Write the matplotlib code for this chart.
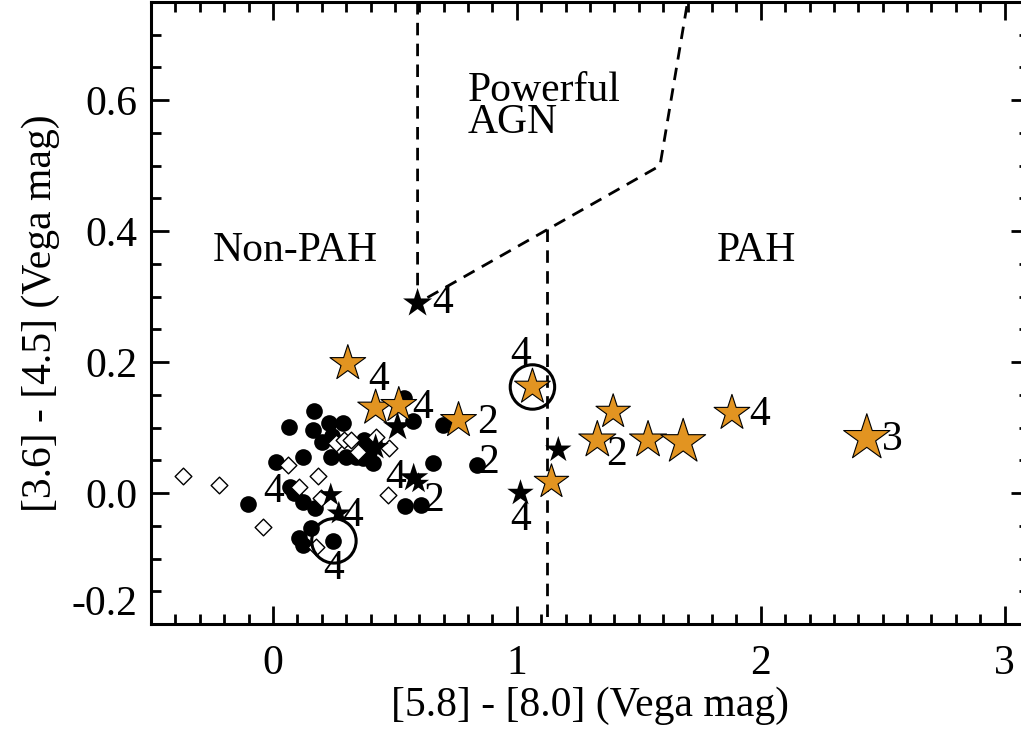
import matplotlib
matplotlib.use("Agg")
import matplotlib.pyplot as plt
from matplotlib.ticker import MultipleLocator, FormatStrFormatter

plt.rcParams['font.family'] = ['Liberation Serif', 'DejaVu Serif']
plt.rcParams['axes.unicode_minus'] = False

# ---- data ----
pah_x = [0.307, 0.421, 0.516, 0.761, 1.064, 1.142, 1.330, 1.395, 1.538, 1.682, 1.882, 2.435]
pah_y = [0.198, 0.130, 0.134, 0.111, 0.162, 0.017, 0.081, 0.124, 0.081, 0.078, 0.122, 0.084]
pah_size = [27, 27, 27, 27, 27, 26, 28, 26, 28, 34, 27, 35]

bstar_x = [0.593, 0.511, 0.421, 0.577, 0.597, 1.015, 1.170, 0.237, 0.270]
bstar_y = [0.290, 0.101, 0.070, 0.023, 0.015, 0.000, 0.066, -0.003, -0.031]
bstar_size = [22, 22, 20, 22, 16, 20, 20, 18, 18]

dot_x = [0.168, 0.065, 0.164, 0.229, 0.286, 0.200, 0.241, 0.012, 0.123, 0.237, 0.299,
         -0.102, 0.070, 0.086, 0.123, 0.172, 0.155, 0.106, 0.123, 0.245, 0.372, 0.393,
         0.368, 0.409, 0.413, 0.536, 0.573, 0.655, 0.696, 0.835, 0.540, 0.606, 0.340]
dot_y = [0.125, 0.101, 0.096, 0.107, 0.107, 0.078, 0.087, 0.047, 0.055, 0.055, 0.055,
         -0.017, 0.009, 0.000, -0.014, -0.023, -0.053, -0.069, -0.079, -0.073, 0.081, 0.063,
         0.053, 0.046, 0.076, 0.145, 0.110, 0.046, 0.104, 0.043, -0.020, -0.018, 0.055]

dia_x = [-0.368, -0.221, -0.041, 0.061, 0.184, 0.106, 0.196, 0.176, 0.258, 0.291, 0.319,
         0.348, 0.421, 0.475, 0.471]
dia_y = [0.026, 0.012, -0.052, 0.043, 0.026, 0.009, -0.008, -0.082, 0.076, 0.081, 0.081,
         0.063, 0.085, 0.069, -0.003]

circ_x = [1.064, 0.250]
circ_y = [0.162, -0.073]

lab_text = ["4", "4", "4", "2", "4", "2", "4", "2", "4", "4", "4", "4", "2", "4", "3"]
lab_x = [0.696, 0.434, 0.614, 0.880, 1.015, 0.884, 0.503, 0.659, 0.004, 0.327, 0.250,
         1.015, 1.408, 1.997, 2.541]
lab_y = [0.290, 0.173, 0.130, 0.108, 0.211, 0.046, 0.023, -0.011, 0.002, -0.034, -0.115,
         -0.041, 0.058, 0.119, 0.081]

# boundary lines
agn_x = [0.593, 0.593, 1.587, 1.70]
agn_y = [0.75, 0.290, 0.500, 0.75]
pah_line_x = [1.125, 1.125]
pah_line_y = [0.403, -0.2]

region_text = ["Non-PAH", "PAH", "Powerful\nAGN"]
region_x = [-0.245, 1.82, 0.80]
region_y = [0.370, 0.370, 0.590]

# ---- figure ----
W, H = 1021, 733
fig = plt.figure(figsize=(W / 100, H / 100), dpi=100)
ax = fig.add_axes([151 / W, (H - 624) / H, (1029 - 151) / W, 622 / H])

ls = (0, (4.5, 3.0))
ax.plot(agn_x, agn_y, color='black', lw=2.0, linestyle=ls, zorder=2)
ax.plot(pah_line_x, pah_line_y, color='black', lw=2.0, linestyle=ls, zorder=2)

ax.scatter(dot_x, dot_y, s=12 ** 2, c='black', marker='o', linewidths=0, zorder=3)
ax.scatter(dia_x, dia_y, s=8.5 ** 2, facecolors='white', edgecolors='black', marker='D',
           linewidths=1.0, zorder=4)
ax.scatter(pah_x, pah_y, s=[v ** 2 for v in pah_size], c='#E29421', marker='*',
           edgecolors='black', linewidths=0.8, zorder=5)
ax.scatter(bstar_x, bstar_y, s=[v ** 2 for v in bstar_size], c='black', marker='*',
           linewidths=0, zorder=6)
ax.scatter(circ_x, circ_y, s=32 ** 2, facecolors='none', edgecolors='black', marker='o',
           linewidths=2.2, zorder=7)

for t, x, y in zip(lab_text, lab_x, lab_y):
    ax.text(x, y, t, fontsize=30, ha='center', va='center', zorder=8)

for t, x, y in zip(region_text, region_x, region_y):
    ax.text(x, y, t, fontsize=30, ha='left', va='center', linespacing=0.8, zorder=8)

ax.set_xlim(-0.5, 3.1)
ax.set_ylim(-0.2, 0.75)
ax.xaxis.set_major_locator(MultipleLocator(1))
ax.xaxis.set_minor_locator(MultipleLocator(0.1))
ax.yaxis.set_major_locator(MultipleLocator(0.2))
ax.yaxis.set_minor_locator(MultipleLocator(0.05))
ax.yaxis.set_major_formatter(FormatStrFormatter('%.1f'))
ax.xaxis.set_major_formatter(FormatStrFormatter('%d'))

ax.tick_params(which='both', direction='in', top=True, right=True, width=2.0, labelsize=30)
ax.tick_params(which='major', length=13)
ax.tick_params(which='minor', length=7)
ax.tick_params(axis='x', which='major', pad=15)
ax.tick_params(axis='y', which='major', pad=10)
for sp in ax.spines.values():
    sp.set_linewidth(2.2)

ax.set_xlabel('[5.8] - [8.0] (Vega mag)', fontsize=30, labelpad=2)
ax.set_ylabel('[3.6] - [4.5] (Vega mag)', fontsize=30, labelpad=8)

fig.canvas.draw()
for tick in ax.yaxis.get_major_ticks():
    if abs(tick.get_loc() + 0.2) < 1e-6:
        tick.label1.set_verticalalignment('bottom')

fig.savefig('out.png', dpi=100)
